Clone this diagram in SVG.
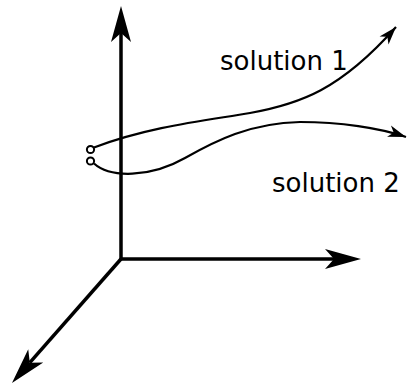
<svg xmlns="http://www.w3.org/2000/svg" width="407" height="385" viewBox="0 0 407 385">
<style>
.axis{fill:none;stroke:#000;stroke-width:3.5;stroke-linejoin:miter}
.curve{fill:none;stroke:#000;stroke-width:2.2}
.end{fill:#fff;stroke:#000;stroke-width:2}
.lbl{font-family:"DejaVu Sans",sans-serif;font-size:26px;fill:#000}
</style>
<defs>
<marker id="bigArrow" markerUnits="userSpaceOnUse" orient="auto" refX="0" refY="0" overflow="visible" markerWidth="1" markerHeight="1">
<path d="M27,0 L-9,-10 L0,0 L-9,10 Z" fill="#000"/>
</marker>
<marker id="bigArrowStart" markerUnits="userSpaceOnUse" orient="auto-start-reverse" refX="0" refY="0" overflow="visible" markerWidth="1" markerHeight="1">
<path d="M27,0 L-9,-10 L0,0 L-9,10 Z" fill="#000"/>
</marker>
<marker id="smallArrow" markerUnits="userSpaceOnUse" orient="auto" refX="0" refY="0" overflow="visible" markerWidth="1" markerHeight="1">
<path d="M0,0 L-18,-6 L-13,0 L-18,6 Z" fill="#000"/>
</marker>
</defs>
<g id="connectors">
<g id="axes">
<path class="axis" d="M121,33 L121,259 L334,259" marker-start="url(#bigArrowStart)" marker-end="url(#bigArrow)"/>
<path class="axis" d="M121,259 L29.8,362.7" marker-end="url(#bigArrow)"/>
</g>
<path id="curve1" class="curve" d="M94,147.5 C150,126 210,120 250,113 C300,104 340,90 396,27" marker-end="url(#smallArrow)"/>
<path id="curve2" class="curve" d="M94,163.5 C110,178 150,178 185,158 C215,141 250,123 300,122 C340,122 380,128 406,137" marker-end="url(#smallArrow)"/>
</g>
<g id="start1"><circle class="end" cx="90.5" cy="149.5" r="3.6"/></g>
<g id="start2"><circle class="end" cx="90.5" cy="161" r="3.6"/></g>
<g id="label1"><text class="lbl" x="220" y="70">solution 1</text></g>
<g id="label2"><text class="lbl" x="272" y="192">solution 2</text></g>
</svg>
